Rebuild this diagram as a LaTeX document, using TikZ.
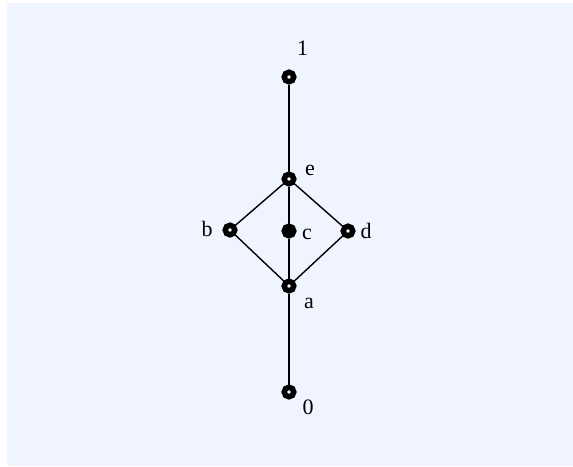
\documentclass[tikz,border=0pt]{standalone}
\usepackage{fontspec}
\setmainfont{Liberation Serif}
\begin{document}
\begin{tikzpicture}[x=1pt,y=-1pt]
		% Styles
		\tikzstyle{arete}=[-,line width=1.4pt]
		\tikzstyle{sommet}=[circle,draw=black,fill=white,line width=5.5pt,minimum size=9.5pt,inner sep=0pt]
		\tikzstyle{plein}=[sommet,fill=black]
		\tikzstyle{etiquette}=[black,inner sep=0pt,font=\fontsize{22}{22}\selectfont]
		% Fond
		\definecolor{fond}{RGB}{240,244,254}
		\useasboundingbox (0,0) rectangle (573,466);
		\fill[white] (0,0) rectangle (573,466);
		\fill[fond] (7,3) rectangle (573,466);
		% Dimensions
		\def\Axe{289}
		\def\Ecart{59}
		% Noeuds
		\node[sommet] (un) at ({\Axe},77) {};
		\node[sommet] (e) at ({\Axe},179) {};
		\node[sommet] (b) at ({\Axe-\Ecart},230) {};
		\node[plein] (c) at ({\Axe},231) {};
		\node[sommet] (d) at ({\Axe+\Ecart},231) {};
		\node[sommet] (a) at ({\Axe},286) {};
		\node[sommet] (zero) at ({\Axe},392) {};
		%
		\node[etiquette] (Lun) at (302.5,48) {1};
		\node[etiquette] (Le) at (310,170) {e};
		\node[etiquette] (Lb) at (207,229) {b};
		\node[etiquette] (Lc) at (307,234) {c};
		\node[etiquette] (Ld) at (366,231) {d};
		\node[etiquette] (La) at (309,303) {a};
		\node[etiquette] (Lzero) at (308,407.5) {0};
		% Aretes
		\draw[arete] (un)--(e);
		\draw[arete] (e)--(c);
		\draw[arete] (c)--(a);
		\draw[arete] (a)--(zero);
		\draw[arete] (e)--(b);
		\draw[arete] (e)--(d);
		\draw[arete] (b)--(a);
		\draw[arete] (d)--(a);
	\end{tikzpicture}
\end{document}
